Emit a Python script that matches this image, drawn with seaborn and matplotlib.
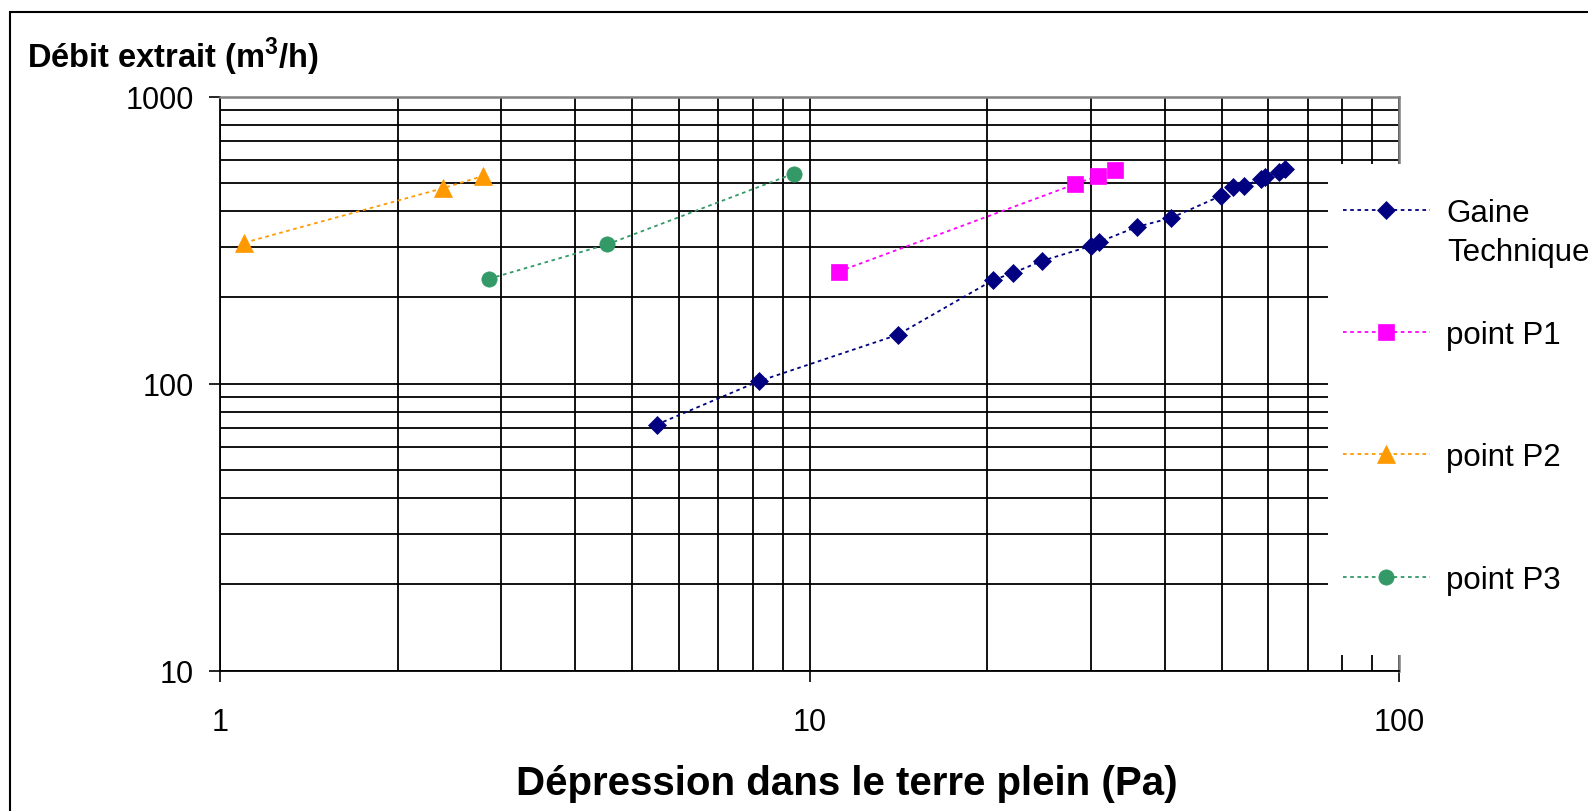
import pandas as pd
import seaborn as sns
import matplotlib.pyplot as plt
from matplotlib.lines import Line2D
from matplotlib.patches import Rectangle
from matplotlib.ticker import FixedLocator, LogLocator, NullFormatter

# values (Pa, m3/h)
gaine_pa = [5.50, 8.20, 14.1, 20.5, 22.1, 24.8, 30.0, 31.0, 35.9, 41.0,
            49.8, 52.2, 54.5, 58.2, 59.1, 62.4, 64.0]
gaine_q = [72, 102, 148, 230, 243, 268, 302, 312, 352, 378,
           451, 483, 490, 515, 527, 545, 562]
p1_pa = [11.2, 28.2, 30.8, 32.9]
p1_q = [246, 496, 530, 555]
p2_pa = [1.10, 2.39, 2.79]
p2_q = [310, 480, 529]
p3_pa = [2.86, 4.54, 9.41]
p3_q = [232, 306, 540]

series_names = ["Gaine Technique", "point P1", "point P2", "point P3"]
legend_labels = ["Gaine", "point P1", "point P2", "point P3"]
colors = ["#000080", "#FF00FF", "#FF9900", "#339966"]
markers = ["D", "s", "^", "o"]
marker_sizes = [9.5, 12, 13, 11]

x_ticks = [1, 10, 100]
y_ticks = [10, 100, 1000]

df = pd.concat([
    pd.DataFrame({"pa": xs, "q": ys, "serie": name})
    for name, xs, ys in zip(series_names,
                            [gaine_pa, p1_pa, p2_pa, p3_pa],
                            [gaine_q, p1_q, p2_q, p3_q])
], ignore_index=True)

sns.set_theme(style="white")
plt.rcParams["font.family"] = ["Liberation Sans", "DejaVu Sans"]
plt.rcParams["text.color"] = "black"
plt.rcParams["xtick.color"] = "black"
plt.rcParams["ytick.color"] = "black"
plt.rcParams["mathtext.fontset"] = "custom"
plt.rcParams["mathtext.rm"] = "Liberation Sans"
plt.rcParams["mathtext.bf"] = "Liberation Sans:bold"

W, H = 1588, 812
fig = plt.figure(figsize=(W / 100, H / 100), dpi=100)
ax = fig.add_axes([220 / W, 1 - 671.7 / H, (1399.3 - 220) / W, (671.7 - 97.7) / H])

dots = (0, (2, 2))
for name, c, m, ms in zip(series_names, colors, markers, marker_sizes):
    sub = df[df["serie"] == name]
    sns.lineplot(data=sub, x="pa", y="q", ax=ax, color=c, marker=m,
                 markersize=ms, markeredgecolor=c, markeredgewidth=0.5,
                 linestyle=dots, linewidth=1.3, sort=False,
                 errorbar=None, legend=False, zorder=4)

ax.set_xscale("log")
ax.set_yscale("log")
ax.set_xlim(1, 100)
ax.set_ylim(10, 1000)

ax.xaxis.set_major_locator(FixedLocator(x_ticks))
ax.yaxis.set_major_locator(FixedLocator(y_ticks))
ax.set_xticklabels([str(v) for v in x_ticks])
ax.set_yticklabels([str(v) for v in y_ticks])
ax.xaxis.set_minor_locator(LogLocator(base=10, subs=range(2, 10)))
ax.yaxis.set_minor_locator(LogLocator(base=10, subs=range(2, 10)))
ax.xaxis.set_minor_formatter(NullFormatter())
ax.yaxis.set_minor_formatter(NullFormatter())

ax.grid(which="both", color="black", linewidth=1.3)
ax.set_axisbelow(True)
ax.tick_params(which="major", direction="out", length=8, width=1.2,
               color="black", labelcolor="black", labelsize=22,
               left=True, bottom=True)
ax.tick_params(axis="x", which="major", pad=18)
ax.tick_params(axis="y", which="major", pad=11)
ax.tick_params(which="minor", length=0)
ax.set_xlabel("")
ax.set_ylabel("")

for side in ["left", "bottom"]:
    ax.spines[side].set_color("black")
    ax.spines[side].set_linewidth(1.3)
for side in ["top", "right"]:
    ax.spines[side].set_color("#808080")
    ax.spines[side].set_linewidth(1.8)

# titles
fig.text(26.7 / W, 1 - 68 / H, r"Débit extrait (m$^{\mathbf{3}}$/h)", fontsize=23.5,
         fontweight="bold", ha="left", va="baseline")
fig.text(846.5 / W, 1 - 795 / H, "Dépression dans le terre plein (Pa)",
         fontsize=29, fontweight="bold", ha="center", va="baseline")

# white area behind legend
fig.add_artist(Rectangle((1328 / W, 1 - 656 / H), 1, (656 - 165) / H,
                         transform=fig.transFigure, facecolor="white",
                         edgecolor="none", zorder=3))

handles = [Line2D([], [], color=c, marker=m, markersize=ms, markeredgecolor=c,
                  markeredgewidth=0.5, linestyle=dots, linewidth=1.3)
           for c, m, ms in zip(colors, markers, marker_sizes)]
leg = fig.legend(handles, legend_labels, loc="upper left",
                 bbox_to_anchor=(1342.7 / W, 1 - 199 / H), frameon=False,
                 fontsize=22.5, handlelength=2.8, handletextpad=0.52,
                 labelspacing=2.95, borderpad=0, borderaxespad=0)
leg.set_zorder(5)
fig.text(1447 / W, 1 - 261 / H, "Technique", fontsize=22.5,
         ha="left", va="baseline", zorder=6)

# outer chart frame
fig.add_artist(Rectangle((10 / W, -0.1), 2, 1.1 - 12.7 / H,
                         transform=fig.transFigure, fill=False,
                         edgecolor="black", linewidth=1.5, zorder=7))

fig.savefig("out.png", dpi=100)
